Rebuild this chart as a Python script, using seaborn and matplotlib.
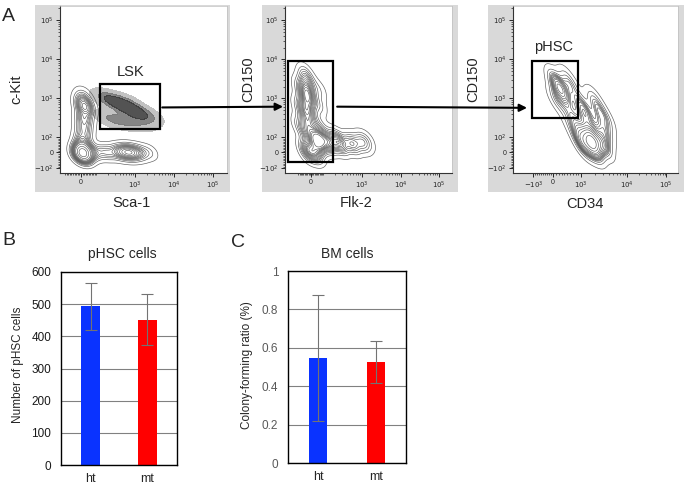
import numpy as np
import pandas as pd
import matplotlib
matplotlib.use("Agg")
import matplotlib.pyplot as plt
import seaborn as sns
from matplotlib.patches import Rectangle, ConnectionPatch

W, H = 685, 486

# ---------------- B / C : bar data ----------------
groups = ["ht", "mt"]
phsc_mean = [493, 452]
phsc_sd = [72, 80]
cfr_mean = [0.547, 0.526]
cfr_sd = [0.33, 0.11]
bar_colors = ["#0a33ff", "#ff0000"]

# ---------------- A : flow populations ----------------
# axis unit = one decade of the biexponential display scale, 0 at 0
# c-Kit vs Sca-1 (contours)
kit_x = [0.05, 0.05, 0.0, 0.05, 0.07, 0.08, 0.1, 0.08, 0.05, 0.05,
         0.35, 0.65, 0.95, 1.15, 1.3, 1.5, 1.75]
kit_y = [-0.03, 0.12, -0.1, 0.35, 0.6, 0.85, 1.1, 1.25, 1.4, 1.55,
         0.0, 0.0, 0.0, 0.0, 0.0, 0.0, 0.0]
kit_w = [10, 5, 4, 3, 3, 3.5, 4, 3.5, 1.5, 0.5,
         2.5, 2.5, 3, 3.5, 3.5, 2.5, 1.2]
# LSK events (dot cloud)
lsk_x = [0.6, 0.8, 1.0, 1.2, 1.4, 1.6, 1.8, 0.65, 0.9, 1.15, 1.4, 1.65, 1.2]
lsk_y = [1.4, 1.33, 1.24, 1.14, 1.05, 0.97, 0.9, 0.88, 0.83, 0.8, 0.77, 0.75, 1.3]
lsk_w = [1.2, 1.5, 1.7, 1.7, 1.5, 1.1, 0.7, 0.9, 1.0, 1.0, 0.8, 0.6, 0.6]
# CD150 vs Flk-2
flk_x = [-0.1, -0.1, -0.1, -0.1, -0.1, -0.12, -0.15,
         -0.3, -0.3, -0.3, 0.2, 0.2, 0.2,
         -0.1, 0.18, 0.45, 0.75, 1.05, 1.3, 1.45, 0.1, 0.2, 0.6]
flk_y = [0.5, 0.8, 1.1, 1.4, 1.65, 1.9, 2.05,
         0.7, 1.2, 1.7, 0.7, 1.2, 1.6,
         0.05, 0.27, 0.25, 0.22, 0.22, 0.25, 0.28, 0.0, 0.45, 0.4]
flk_w = [2, 2.5, 3, 3.5, 2.5, 1.5, 0.6,
         1, 1, 0.8, 1, 1, 0.8,
         3, 5, 3.5, 3, 2.5, 1.8, 0.8, 3, 1.5, 1]
# CD150 vs CD34
cd34_x = [0.2, 0.05, 0.1, 0.45, 0.35,
          0.77, 1.05, 0.5, 1.2, 0.85,
          1.0, 0.75, 1.25, 1.0, 1.3, 0.7, 1.35, 0.45]
cd34_y = [1.6, 1.85, 1.35, 1.7, 1.9,
          1.13, 1.35, 0.95, 1.0, 0.8,
          0.31, 0.22, 0.25, 0.1, 0.55, 0.5, 0.85, 0.7]
cd34_w = [3.5, 1.2, 1.5, 1.2, 0.8,
          2.5, 1.3, 1.5, 1.2, 1.5,
          5, 3, 3, 3, 2, 1.5, 1, 0.8]

# gates (x0, y0, x1, y1)
gate_lsk = (0.49, 0.59, 2.03, 1.74)
gate_flk = (-0.59, -0.24, 0.56, 2.35)
gate_phsc = (-0.54, 0.87, 0.64, 2.33)

# axis ticks
y_major = [-0.41, 0, 0.385, 1.385, 2.385, 3.385]
y_labels = ["$-10^2$", "0", "$10^2$", "$10^3$", "$10^4$", "$10^5$"]
x1_major = [0, 1.385, 2.385, 3.385]
x2_major = [0, 1.31, 2.31, 3.28]
x_labels = ["0", "$10^3$", "$10^4$", "$10^5$"]
x3_major = [-0.51, 0, 0.72, 1.9, 2.9]
x3_labels = ["$-10^3$", "0", "$10^3$", "$10^4$", "$10^5$"]

sns.set_style("white")
plt.rcParams["font.family"] = ["Liberation Sans", "DejaVu Sans"]

fig = plt.figure(figsize=(W / 100, H / 100), dpi=100)


def box(left, top, right, bottom):
    return [left / W, 1 - bottom / H, (right - left) / W, (bottom - top) / H]


def ftext(x, y, s, **kw):
    fig.text(x / W, 1 - y / H, s, ha="center", va="center", **kw)


def log_minors(p_lo, p_hi):
    return list(p_lo + (p_hi - p_lo) * np.log10(np.arange(2, 10)))


def lin_minors(p_neg, p_pos, n=10):
    return list(np.linspace(p_neg, 0, n + 1)) + list(np.linspace(0, p_pos, n + 1))


def style_flow(ax, xmaj, xlab, xmin, xlim):
    ax.set_xlim(*xlim)
    ax.set_ylim(-0.53, 3.75)
    ax.set_xticks(xmaj, xlab)
    ax.set_yticks(y_major, y_labels)
    ax.set_xticks(xmin, minor=True)
    ymin = lin_minors(-0.41, 0.385) + log_minors(0.385, 1.385) + \
        log_minors(1.385, 2.385) + log_minors(2.385, 3.385) + [3.385 + np.log10(2)]
    ax.set_yticks(ymin, minor=True)
    ax.tick_params(which="major", direction="out", length=3, width=0.7,
                   labelsize=5, pad=1.5, colors="0.15", left=True, bottom=True)
    ax.tick_params(which="minor", direction="out", length=1.6, width=0.5,
                   colors="0.15", left=True, bottom=True)
    ax.set_xlabel("")
    ax.set_ylabel("")
    for s in ["left", "bottom"]:
        ax.spines[s].set_color("0.2")
        ax.spines[s].set_linewidth(0.8)
    for s in ["top", "right"]:
        ax.spines[s].set_color("0.75")
        ax.spines[s].set_linewidth(0.5)


def gate(ax, g):
    ax.add_patch(Rectangle((g[0], g[1]), g[2] - g[0], g[3] - g[1],
                           fill=False, ec="black", lw=1.6, zorder=5))


# gray backgrounds of the flow panels
for x0, x1 in [(35, 230), (262, 458), (488, 684)]:
    fig.add_artist(Rectangle((x0 / W, 1 - 192 / H), (x1 - x0) / W, 187 / H,
                             transform=fig.transFigure, fc="#d9d9d9", ec="none", zorder=-5))

contour_kw = dict(levels=16, thresh=0.03, color="0.35", linewidths=0.45)

# ---- A1 ----
ax1 = fig.add_axes(box(60, 6, 227, 173))
ax1.set_facecolor("white")
sns.kdeplot(x=kit_x, y=kit_y, weights=kit_w, bw_adjust=0.42, ax=ax1, **contour_kw)
sns.kdeplot(x=lsk_x, y=lsk_y, weights=lsk_w, bw_adjust=1.0, ax=ax1, fill=True,
            levels=[0.06, 0.3, 0.6, 1.0], color="black",
            colors=["#b8b8b8", "#707070", "#353535"], alpha=0.85)
x1_min = lin_minors(-0.41, 0.385) + log_minors(0.385, 1.385) + \
    log_minors(1.385, 2.385) + log_minors(2.385, 3.385)
style_flow(ax1, x1_major, x_labels, x1_min, (-0.54, 3.74))
gate(ax1, gate_lsk)
ax1.text(1.26, 2.05, "LSK", ha="center", va="center", fontsize=10.5)

# ---- A2 ----
ax2 = fig.add_axes(box(285, 6, 452, 173))
ax2.set_facecolor("white")
sns.kdeplot(x=flk_x, y=flk_y, weights=flk_w, bw_adjust=0.5, ax=ax2, **contour_kw)
x2_min = lin_minors(-0.33, 0.31) + log_minors(0.31, 1.31) + \
    log_minors(1.31, 2.31) + log_minors(2.31, 3.28)
style_flow(ax2, x2_major, x_labels, x2_min, (-0.67, 3.62))
gate(ax2, gate_flk)

# ---- A3 ----
ax3 = fig.add_axes(box(513, 6, 678, 173))
ax3.set_facecolor("white")
sns.kdeplot(x=cd34_x, y=cd34_y, weights=cd34_w, bw_adjust=0.65, ax=ax3, **contour_kw)
x3_min = lin_minors(-0.51, 0.72) + log_minors(0.72, 1.9) + log_minors(1.9, 2.9)
style_flow(ax3, x3_major, x3_labels, x3_min, (-1.03, 3.2))
gate(ax3, gate_phsc)
ax3.text(0.0, 2.7, "pHSC", ha="center", va="center", fontsize=10.5)

# arrows between gates
for a, b, p0, p1 in [(ax1, ax2, (2.08, 1.15), (-0.72, 1.17)),
                     (ax2, ax3, (0.67, 1.17), (-0.67, 1.14))]:
    fig.add_artist(ConnectionPatch(p0, p1, coordsA=a.transData, coordsB=b.transData,
                                   arrowstyle="-|>", mutation_scale=11, lw=1.5,
                                   color="black", zorder=10))

# axis names and panel letters
ftext(8.5, 16.5, "A", fontsize=14)
ftext(16, 89, "c-Kit", fontsize=10.5, rotation=90)
ftext(131, 203, "Sca-1", fontsize=10.5)
ftext(248, 79, "CD150", fontsize=10.5, rotation=90)
ftext(356, 203, "Flk-2", fontsize=10.5)
ftext(473, 79, "CD150", fontsize=10.5, rotation=90)
ftext(585, 204, "CD34", fontsize=10.5)
ftext(8.5, 240, "B", fontsize=14)
ftext(238.5, 242, "C", fontsize=14)

# ---------------- B / C bars ----------------
bar_df = pd.DataFrame({"group": groups, "phsc": phsc_mean, "cfr": cfr_mean})


def bar_panel(rect, col, mean, sd, ylim, ticks, tlabels, tcolor, title, tx, ylab, lx):
    ax = fig.add_axes(rect)
    sns.barplot(data=bar_df, x="group", y=col, hue="group", palette=bar_colors,
                saturation=1, width=0.32, errorbar=None, legend=False, linewidth=0, ax=ax)
    ax.errorbar(x=range(len(groups)), y=mean, yerr=sd, fmt="none", ecolor="0.45",
                elinewidth=0.8, capsize=4, capthick=0.8, zorder=3)
    ax.set_xlim(-0.52, 1.52)
    ax.set_ylim(*ylim)
    ax.set_yticks(ticks, tlabels)
    ax.yaxis.grid(True, color="0.5", lw=0.8)
    ax.set_axisbelow(True)
    ax.tick_params(axis="y", length=0, pad=7, labelsize=8.5, labelcolor=tcolor)
    ax.tick_params(axis="x", length=0, pad=6, labelsize=9)
    ax.set_xlabel("")
    ax.set_ylabel("")
    for s in ax.spines.values():
        s.set_color("black")
        s.set_linewidth(1.0)
    ftext(tx, 254, title, fontsize=10)
    ftext(lx, 365, ylab, fontsize=8.5, rotation=90)
    return ax


bar_panel(box(61, 272, 177, 465), "phsc", phsc_mean, phsc_sd, (0, 600),
          [0, 100, 200, 300, 400, 500, 600], ["0", "100", "200", "300", "400", "500", "600"],
          "0.1", "pHSC cells", 122, "Number of pHSC cells", 18)
bar_panel(box(288, 271, 406, 463), "cfr", cfr_mean, cfr_sd, (0, 1),
          [0, 0.2, 0.4, 0.6, 0.8, 1.0], ["0", "0.2", "0.4", "0.6", "0.8", "1"],
          "0.35", "BM cells", 347, "Colony-forming ratio (%)", 247)

fig.savefig("out.png", dpi=100)
